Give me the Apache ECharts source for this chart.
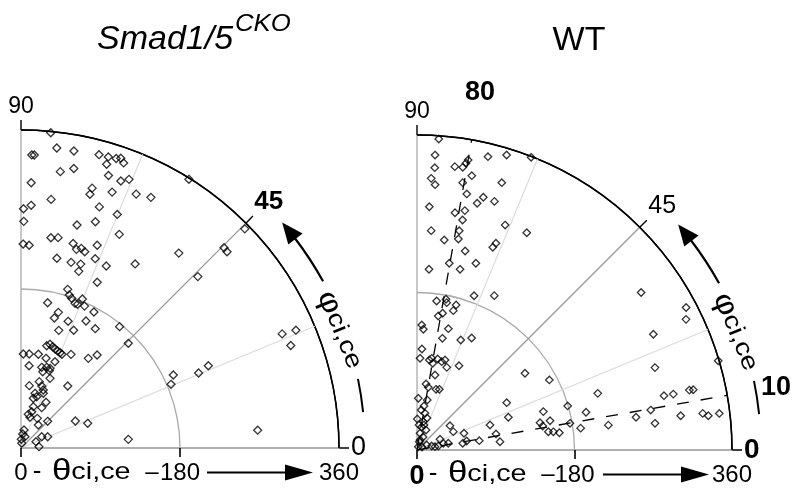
<!DOCTYPE html>
<html><head><meta charset="utf-8">
<script src="https://cdn.jsdelivr.net/npm/echarts@6/dist/echarts.min.js"></script>
<style>html,body{margin:0;padding:0;background:#fff}#c{width:800px;height:495px}</style>
</head><body><div id="c"></div>
<script>
// ---- data (theta = radial, 0..360 ; phi = angle, 0..90) ----
const thetaTickValues = [0, 180, 360];
const thetaTickMarks = [0, 180];
const phiTickValues = [0, 45, 90];
const guideAngles = [22.5, 67.5];
const wtDashAngles = [80, 10];
const wtDashLabels = ['80', '10'];

const ckoTheta = [358.5,342,332,332,341.5,343.6,344,347,343,345,
335.5,316,322,324,322.7,327.8,358.7,300.5,305,297.6,
307.5,315.6,319.6,283.5,270.9,275,287,256.6,269.6,286,
260.3,266.2,240.4,241.8,230.9,229.7,239,233.5,236.1,233.6,
245.2,218.6,217.7,218.9,210.4,230.2,227.5,245.2,283.9,206.5,
278.8,354.6,322.8,322.1,322.6,338.6,326.7,191.2,184.5,218.3,
231.6,268.7,187.2,181.6,178.9,174.8,182.4,176,174.9,167.2,
159.3,151.9,174.7,153,161.5,177,139.9,146,159.1,169.7,
121.9,120.1,118.5,117.4,116.6,119.4,115.8,120.2,126.9,136,
106.4,106.8,107.9,105.4,93.6,94.3,95.9,96,89.8,93.2,
105,85.4,77.9,74,70.3,71.2,87.9,63.9,60.7,58,
66.9,59,51.3,48.8,42.8,39,36.2,38.3,32.6,42.7,
68.7,80.5,121.9,20.7,16,9.9,5.4,13.6,26.7,32.8,
18.4,20.4];
const ckoPhi = [84.6,83.2,87.9,87.4,79.9,75.1,73.3,71,70.2,71.8,
73.2,81.9,79.3,72.2,69.5,68.1,58,87.8,74.7,74.8,
70.4,65.6,62.6,83.1,89.4,87.6,72,89.3,71.8,67.6,
75.9,65.3,81.9,80,89.4,87.7,75.7,74.4,73.2,72,
69.4,79.3,74.9,72,71.9,68.6,64.9,58.2,51,65.3,
44.1,44.4,44.6,43.6,23.6,23.2,20.8,25.6,23,22.9,
23.7,4.3,73.6,72.5,71.3,69.5,67.6,65.9,68.5,79.6,
74.6,75.6,61.8,69.6,62.9,50.9,72.2,65.9,58.1,44.3,
74.4,72.6,71,69.3,67.7,75.9,66.4,61.9,53.1,50.7,
88.6,85,79.5,74.4,84.4,75.6,72.3,70,74.1,69.9,
68.5,67.4,74.6,71.5,69,82.4,53,75.6,73,76.1,
67.8,61.3,62.8,73.4,73.6,77.8,73.7,61.2,53,45,
26.4,20.3,4.6,80.5,83,88,81,70.5,28.6,22.9,
22.8,4.2];

const wtTheta = [356.3,337.7,323.3,310.9,303.9,326.7,327.3,336.6,332.5,344.9,
352.4,359,319.7,310,320.5,298.1,278.4,290.3,298.6,297.6,
274.6,279,268,251.2,255.2,245.7,242,276.1,278.2,252.9,
247.3,234,216.6,212.3,223.8,207,171.8,175.4,171.8,171.6,
164.6,188,197.3,155.1,159,143,138.2,143.2,130.9,135.3,
142.4,115.6,104.9,103.8,106.1,106.7,104.8,107.7,100.4,100.7,
107.6,88.2,76.1,72.8,72.7,73.9,59.1,50.9,58.3,42.9,
38.3,33.2,26.8,25.1,19.4,16.4,9.8,4,35.4,12.5,
17.4,20.9,24.8,31,36.6,29,46.8,46.5,57,52.8,
57.7,72,88.2,92.1,95.3,115.9,110.9,151.4,171.1,150.9,
144,146.3,155.7,151.6,157.2,163.9,179.4,177.5,188.7,197.9,
348,341.8,300.8,359,287.8,216.5,220.5,253.1,271,273.7,
289,299.8,318.7,323.1,303.9,329.2,335.2,348,313.1,
46,28.8,29.7,12,6.7];
const wtPhi = [86,86.5,86.4,87,86.1,82.4,80.8,80,80.3,76.4,
73.1,68.7,78.7,80.3,72.4,79,87.1,76.3,75.3,72.7,
80.9,78.7,78.8,86.3,79.1,78.9,82.6,68.6,63.2,69.1,
69.5,76.4,80.2,76.6,72.5,86.2,82.5,79.1,78.6,74.9,
75.4,69.7,63.4,81,79.4,87.8,87,75.5,77.2,68.3,
64,87.2,88.1,82.2,80.9,77.2,74.4,72.7,70.2,79.7,
63.5,76.5,82.2,79.8,72.6,69.8,88.6,81,78.4,77.7,
72.6,77.4,78.5,65.8,79.8,65.2,74.5,68,89.5,27.3,
15.2,10.4,10.6,14.3,12.1,25,36.4,26.8,19.6,8.3,
10.3,8.5,18.9,11.5,5.7,27.8,19.7,35.4,27.9,16.9,
12.5,10.8,12.4,7.9,7.6,6.9,16.3,9.9,7.6,12.6,
27.9,25.9,26.1,16.5,19.1,17.4,7.4,8.5,9.7,6.4,
12.4,12.3,12.4,12.3,7.4,7.3,6.7,6.9,35.1,
84,85.4,74.4,73,31];

// ---- layout / style ----
const FONT = '"Liberation Sans", Arial, Helvetica, sans-serif';
const D = Math.PI / 180;
const panels = [
  {center:[21,448], r:318, theta:ckoTheta, phi:ckoPhi, bold45:true, boldZero:false, sym:8},
  {center:[417,450], r:315, theta:wtTheta, phi:wtPhi, bold45:false, boldZero:true, sym:7.5}
];
function P(c, r, deg){ return [c[0] + r*Math.cos(deg*D), c[1] - r*Math.sin(deg*D)]; }
function zip(a, b){ const n = Math.min(a.length, b.length); const o = []; for (let i=0;i<n;i++) o.push([a[i], b[i]]); return o; }

const series = [];
panels.forEach((p, i) => {
  guideAngles.forEach(a => series.push({
    type:'line', coordinateSystem:'polar', polarIndex:i, silent:true, symbol:'none', z:1,
    data:[[0,a],[360,a]], lineStyle:{color:'#dcdcdc', width:1.2}
  }));
  if (i === 1) {
    wtDashAngles.forEach(a => {
      series.push({type:'line', coordinateSystem:'polar', polarIndex:i, silent:true, symbol:'none', clip:false, z:2,
        data:[[0,a],[380,a]], lineStyle:{color:'#000', width:1.3, type:[12,12]}});
      series.push({type:'line', coordinateSystem:'polar', polarIndex:i, silent:true, symbol:'none', clip:false, z:2,
        data:[[381,a],[394,a]], lineStyle:{color:'#000', width:1.4}});
    });
  }
  series.push({
    type:'scatter', coordinateSystem:'polar', polarIndex:i, symbol:'diamond', symbolSize:p.sym, z:5,
    data: zip(p.theta, p.phi),
    itemStyle:{color:'rgba(255,255,255,0)', borderColor:'#000', borderWidth:1.3}
  });
});

const g = [];
panels.forEach((p, i) => {
  const [cx, cy] = p.center;
  // curved arrow for phi
  g.push({type:'arc', shape:{cx, cy, r:345, startAngle:-37.6*D, endAngle:-28.9*D, clockwise:true},
    style:{stroke:'#000', lineWidth:2.2, fill:null}});
  const tip = P(p.center, 345, 40.8), b1 = P(p.center, 336, 37.3), b2 = P(p.center, 354, 37.3);
  g.push({type:'polygon', shape:{points:[tip, b1, b2]}, style:{fill:'#000'}});
  // tangent dash near 10 deg
  g.push({type:'arc', shape:{cx, cy, r:344, startAngle:-11.6*D, endAngle:-6*D, clockwise:true},
    style:{stroke:'#000', lineWidth:2, fill:null}});
  // phi label
  const tp = P(p.center, 340, 20.3);
  g.push({type:'text', x:tp[0], y:tp[1], rotation:-68*D, scaleX:1.2,
    style:{text:'{p|φ}{c|ci,ce}', fill:'#000', align:'center', verticalAlign:'middle',
      rich:{p:{fontSize:29, fontFamily:FONT, fill:'#000'}, c:{fontSize:24, fontFamily:FONT, fill:'#000'}}}});
  // bottom theta label
  const by = cy + 24;
  g.push({type:'text', x:cx+16, y:by, style:{text:'-', fill:'#000', fontSize:26, fontFamily:FONT, align:'center', verticalAlign:'middle'}});
  g.push({type:'text', x:cx+31, y:by, scaleX:1.2,
    style:{text:'{t|θ}{c|ci,ce}', fill:'#000', align:'left', verticalAlign:'middle',
      rich:{t:{fontSize:29, fontFamily:FONT, fill:'#000'}, c:{fontSize:24, fontFamily:FONT, fill:'#000'}}}});
  g.push({type:'text', x:cx+131, y:by, style:{text:'–', fill:'#000', fontSize:24, fontFamily:FONT, align:'center', verticalAlign:'middle'}});
  g.push({type:'line', shape:{x1:cx+186, y1:by+0.5, x2:cx+266, y2:by+0.5}, style:{stroke:'#000', lineWidth:2}});
  g.push({type:'polygon', shape:{points:[[cx+292, by+0.5],[cx+264, by-7.5],[cx+264, by+8.5]]}, style:{fill:'#000'}});
});
// titles
g.push({type:'text', x:97, y:40, style:{text:'Smad1/5', fill:'#000', fontSize:34, fontStyle:'italic', fontFamily:FONT, align:'left', verticalAlign:'middle'}});
g.push({type:'text', x:235, y:25, scaleX:1.12, style:{text:'CKO', fill:'#000', fontSize:23, fontStyle:'italic', fontFamily:FONT, align:'left', verticalAlign:'middle'}});
g.push({type:'text', x:579, y:40.5, style:{text:'WT', fill:'#000', fontSize:34, fontFamily:FONT, align:'center', verticalAlign:'middle'}});
// dashed-line labels (WT)
g.push({type:'text', x:480, y:93, style:{text:wtDashLabels[0], fill:'#000', fontSize:27, fontWeight:'bold', fontFamily:FONT, align:'center', verticalAlign:'middle'}});
g.push({type:'text', x:776, y:388, style:{text:wtDashLabels[1], fill:'#000', fontSize:27, fontWeight:'bold', fontFamily:FONT, align:'center', verticalAlign:'middle'}});

const option = {
  animation:false,
  backgroundColor:'#fff',
  polar: panels.map(p => ({center:p.center, radius:p.r})),
  angleAxis: panels.map((p, i) => ({
    polarIndex:i, type:'value', min:0, max:90, interval:45,
    startAngle:0, endAngle:90, clockwise:false,
    axisLine:{show:true, lineStyle:{color:'#000', width:1.6}},
    axisTick:{show:true, inside:false, length:10, lineStyle:{color:'#000', width:1.4}},
    axisLabel:{show:true, margin:12, color:'#000', fontSize:23, fontFamily:FONT,
      formatter: v => {
        if (v === 45) return p.bold45 ? '{b|45}' : '{m|45}';
        if (v === 0) return p.boldZero ? '{z|0}' : '{y|0}';
        return String(v);
      },
      rich:{
        b:{fontSize:26, fontWeight:'bold', fontFamily:FONT, color:'#000'},
        m:{fontSize:25, fontFamily:FONT, color:'#000'},
        z:{fontSize:28, fontWeight:'bold', fontFamily:FONT, color:'#000'},
        y:{fontSize:27, fontFamily:FONT, color:'#000'}
      }},
    splitLine:{show:true, lineStyle:{color:['#aaaaaa','#999999','#aaaaaa'], width:1.3}}
  })),
  radiusAxis: panels.map((p, i) => ({
    polarIndex:i, type:'value', min:0, max:360, interval:180,
    axisLine:{show:true, lineStyle:{color:'#aaaaaa', width:1.5}},
    axisTick:{show:false}, axisLabel:{show:false},
    splitLine:{show:true, lineStyle:{color:['#aaaaaa','#aaaaaa','#000000'], width:1.3}}
  })),
  grid: panels.map(p => ({left:p.center[0], top:p.center[1]-p.r, width:p.r, height:p.r, show:false})),
  xAxis: panels.map((p, i) => ({
    gridIndex:i, type:'value', min:0, max:360, interval:180,
    axisLine:{show:false}, splitLine:{show:false},
    axisTick:{show:true, length:9, customValues:thetaTickMarks, lineStyle:{color:'#000', width:1.6}},
    axisLabel:{show:true, margin:13, color:'#000', fontSize:24, fontFamily:FONT, customValues:thetaTickValues,
      formatter: v => (v === 0 && p.boldZero) ? '{z|0}' : String(v),
      rich:{z:{fontSize:27, fontWeight:'bold', fontFamily:FONT, color:'#000'}}}
  })),
  yAxis: panels.map((p, i) => ({gridIndex:i, type:'value', show:false, min:0, max:1})),
  series,
  graphic: g
};
const chart = echarts.init(document.getElementById('c'), null, {renderer:'canvas'});
chart.setOption(option);
</script></body></html>
